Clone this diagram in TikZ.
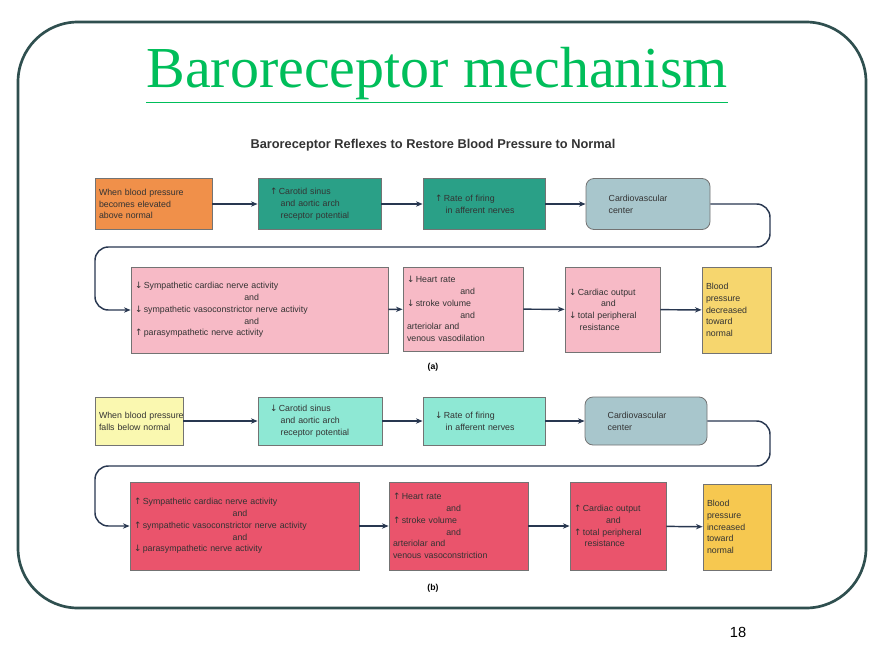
\documentclass[tikz,border=0pt]{standalone}
\usepackage{fontspec}
\setmainfont{Liberation Serif}
\setsansfont{Liberation Sans}
\newfontfamily\arr{DejaVu Sans}
\usetikzlibrary{arrows.meta}
\definecolor{framegray}{RGB}{47,79,79}
\definecolor{titlegreen}{RGB}{0,190,90}
\definecolor{flowline}{RGB}{40,55,80}
\definecolor{orangebox}{RGB}{240,144,74}
\definecolor{tealbox}{RGB}{42,160,135}
\definecolor{greybox}{RGB}{168,198,204}
\definecolor{pinkbox}{RGB}{247,186,198}
\definecolor{goldbox}{RGB}{246,214,110}
\definecolor{paleyellow}{RGB}{250,248,176}
\definecolor{aquabox}{RGB}{142,232,212}
\definecolor{redbox}{RGB}{234,84,108}
\definecolor{ambbox}{RGB}{246,200,80}
\newcommand{\up}{{\arr\char"2191}\,}
\newcommand{\dn}{{\arr\char"2193}\,}
\tikzset{
  flowbox/.style 2 args={draw=black!55,line width=0.6pt,inner xsep=3pt,inner ysep=3pt,
    minimum width=#1*0.75pt,minimum height=#2*0.75pt,text width=#1*0.75pt-6pt,align=left,
    font=\sffamily\fontsize{6.6}{8.8}\selectfont,text=black!80},
  flow/.style={draw=flowline,line width=1.1pt,-{Stealth[length=5pt,width=4pt]}},
}
\begin{document}
\begin{tikzpicture}[x=0.75pt,y=0.75pt,yscale=-1,xscale=1]
        \useasboundingbox (0,0) rectangle (880,660);
        \fill[white] (0,0) rectangle (880,660);
        %Frame
        \draw[framegray,line width=2pt,rounded corners=45] (18,22) rectangle (866,608);
        % Title
        \node (title) at (437,75) {\fontsize{43.5}{46}\selectfont\color{titlegreen}\underline{Baroreceptor mechanism}};
        \node[font=\sffamily\bfseries\fontsize{9.6}{11}\selectfont,text=black!80] (heading) at (433,145) {Baroreceptor Reflexes to Restore Blood Pressure to Normal};
        % Upper chain (a)
        \node[flowbox={117}{51},fill=orangebox] (aStart) at (153.5,204) {When blood pressure\\becomes elevated\\above normal};
        \node[flowbox={123}{51},fill=tealbox] (aSinus) at (319.5,204) {\hspace*{6pt}\up Carotid sinus\\\hspace*{14pt}and aortic arch\\\hspace*{14pt}receptor potential};
        \node[flowbox={122}{51},fill=tealbox] (aFiring) at (484,204) {\hspace*{6pt}\up Rate of firing\\\hspace*{14pt}in afferent nerves};
        \node[flowbox={124}{51},fill=greybox,rounded corners=6pt] (aCenter) at (648,204) {\hspace*{14pt}Cardiovascular\\\hspace*{14pt}center};
        \node[flowbox={257}{86},fill=pinkbox] (aNerves) at (259.5,310) {\dn Sympathetic cardiac nerve activity\\\hspace*{82pt}and\\\dn sympathetic vasoconstrictor nerve activity\\\hspace*{82pt}and\\\up parasympathetic nerve activity};
        \node[flowbox={120}{84},fill=pinkbox] (aHeart) at (463,309) {\dn Heart rate\\\hspace*{40pt}and\\\dn stroke volume\\\hspace*{40pt}and\\arteriolar and\\venous vasodilation};
        \node[flowbox={95}{85},fill=pinkbox] (aOutput) at (612.5,309.5) {\dn Cardiac output\\\hspace*{24pt}and\\\dn total peripheral\\\hspace*{8pt}resistance};
        \node[flowbox={69}{86},fill=goldbox] (aResult) at (736.5,310) {Blood\\pressure\\decreased\\toward\\normal};
        \node[font=\sffamily\bfseries\fontsize{6.5}{8}\selectfont] (aLabel) at (433,367) {(a)};
        \draw[flow] (aStart) -- (aSinus);
        \draw[flow] (aSinus) -- (aFiring);
        \draw[flow] (aFiring) -- (aCenter);
        \draw[flow,rounded corners=10pt] (aCenter.east) -- (770,204) -- (770,247) -- (95,247) -- (95,310) -- (aNerves.west);
        \draw[flow] (aNerves) -- (aHeart);
        \draw[flow] (aHeart) -- (aOutput);
        \draw[flow] (aOutput) -- (aResult);
        % Lower chain (b)
        \node[flowbox={88}{48},fill=paleyellow] (bStart) at (139,421) {\mbox{When blood pressure}\\falls below normal};
        \node[flowbox={124}{48},fill=aquabox] (bSinus) at (320,421) {\hspace*{6pt}\dn Carotid sinus\\\hspace*{14pt}and aortic arch\\\hspace*{14pt}receptor potential};
        \node[flowbox={122}{48},fill=aquabox] (bFiring) at (484,421) {\hspace*{6pt}\dn Rate of firing\\\hspace*{14pt}in afferent nerves};
        \node[flowbox={122}{48},fill=greybox,rounded corners=6pt] (bCenter) at (646,421) {\hspace*{14pt}Cardiovascular\\\hspace*{14pt}center};
        \node[flowbox={229}{88},fill=redbox] (bNerves) at (244.5,526) {\up Sympathetic cardiac nerve activity\\\hspace*{74pt}and\\\up sympathetic vasoconstrictor nerve activity\\\hspace*{74pt}and\\\dn parasympathetic nerve activity};
        \node[flowbox={139}{88},fill=redbox] (bHeart) at (458.5,526) {\up Heart rate\\\hspace*{40pt}and\\\up stroke volume\\\hspace*{40pt}and\\arteriolar and\\venous vasoconstriction};
        \node[flowbox={96}{88},fill=redbox] (bOutput) at (618,526) {\up Cardiac output\\\hspace*{24pt}and\\\up total peripheral\\\hspace*{8pt}resistance};
        \node[flowbox={68}{86},fill=ambbox] (bResult) at (737,527) {Blood\\pressure\\increased\\toward\\normal};
        \node[font=\sffamily\bfseries\fontsize{6.5}{8}\selectfont] (bLabel) at (433,588) {(b)};
        \draw[flow] (bStart) -- (bSinus);
        \draw[flow] (bSinus) -- (bFiring);
        \draw[flow] (bFiring) -- (bCenter);
        \draw[flow,rounded corners=10pt] (bCenter.east) -- (770,421) -- (770,466) -- (95,466) -- (95,526) -- (bNerves.west);
        \draw[flow] (bNerves) -- (bHeart);
        \draw[flow] (bHeart) -- (bOutput);
        \draw[flow] (bOutput) -- (bResult);
        % Page number
        \node[font=\sffamily\fontsize{11}{13}\selectfont] (pageNo) at (738,632) {18};
\end{tikzpicture}
\end{document}
